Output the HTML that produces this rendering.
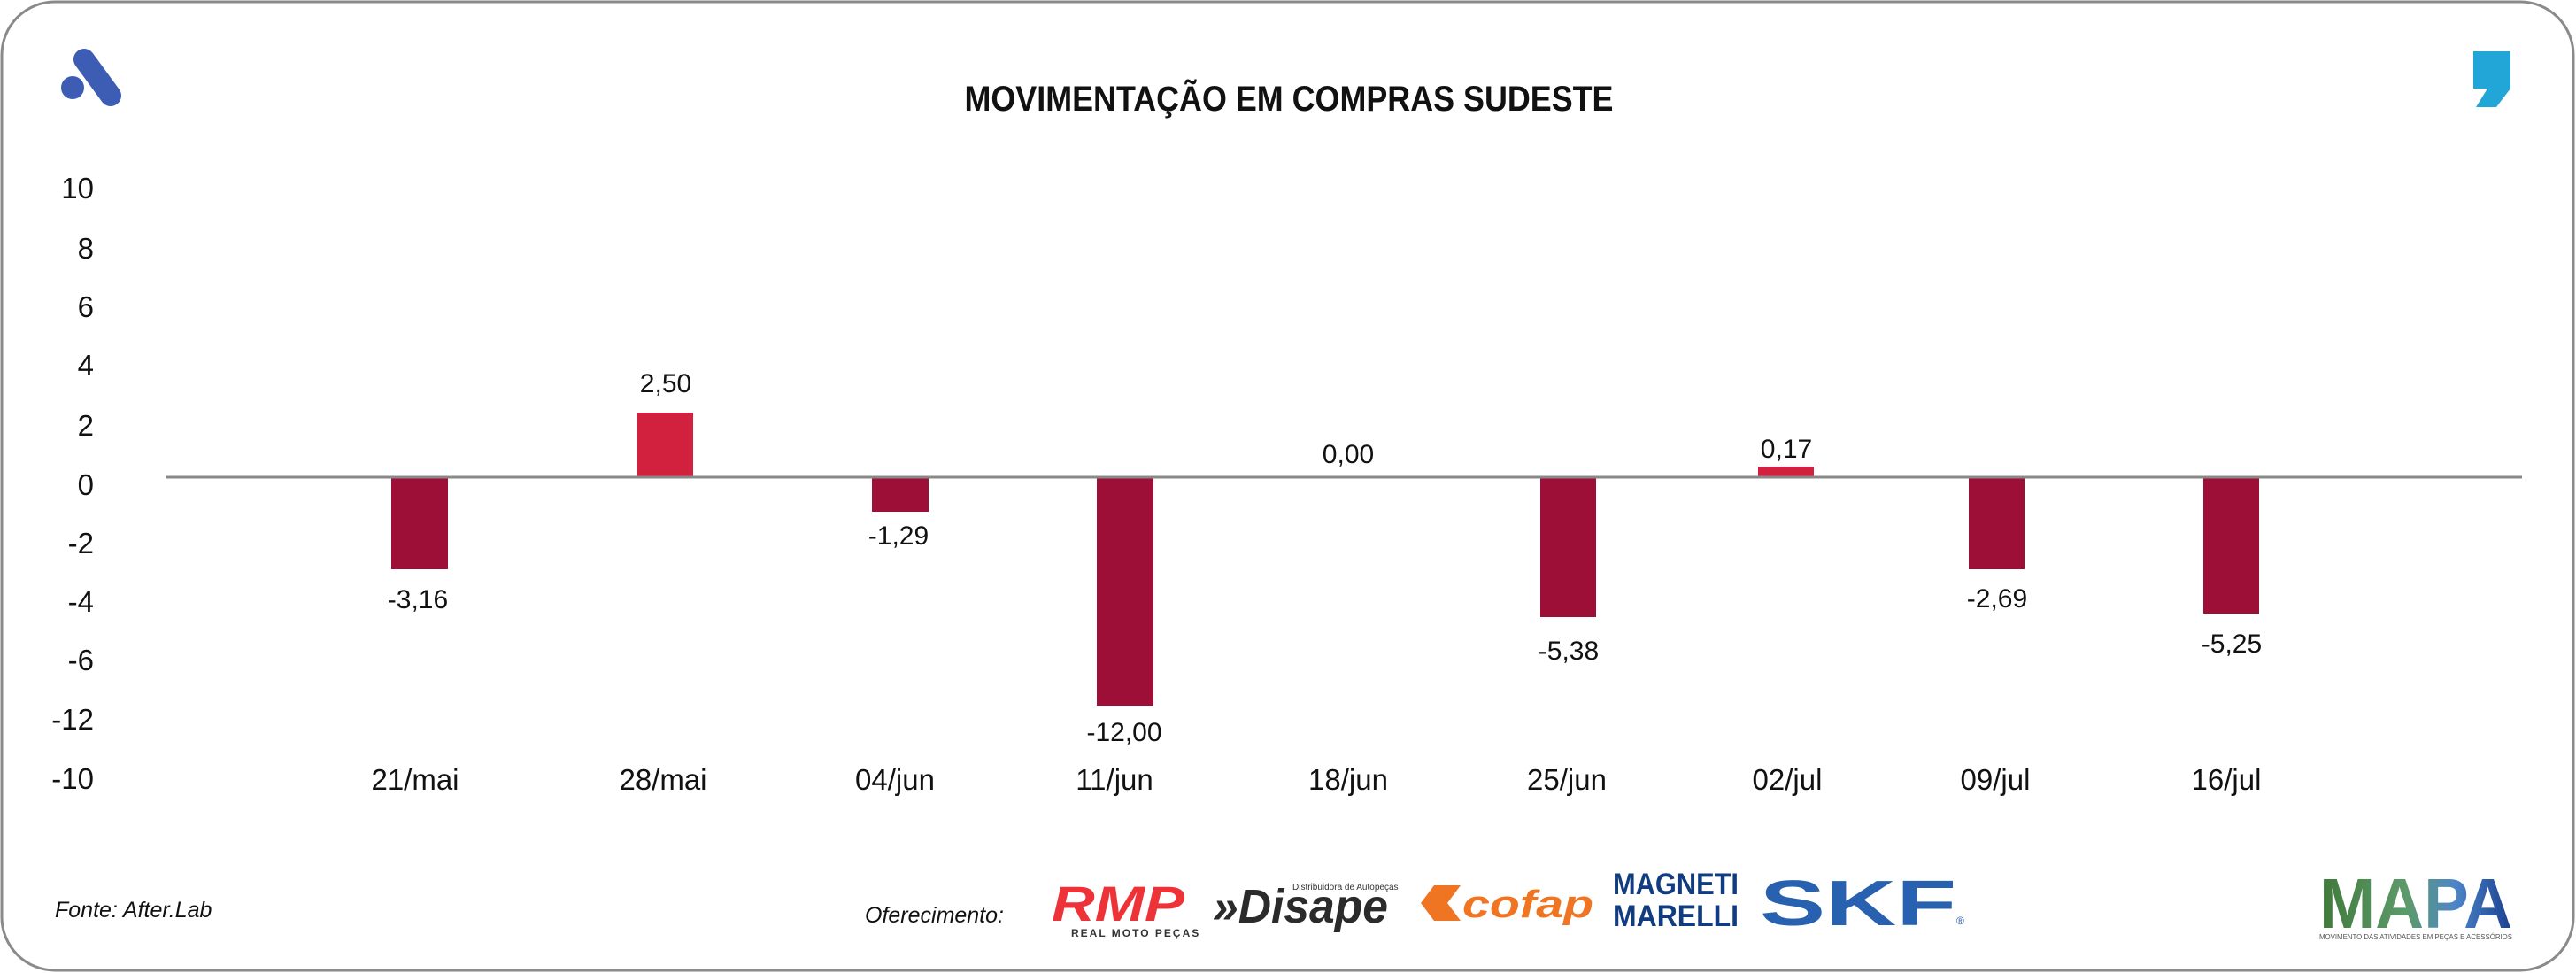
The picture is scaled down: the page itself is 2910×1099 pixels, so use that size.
<!DOCTYPE html>
<html><head><meta charset="utf-8">
<style>
html,body{margin:0;padding:0;background:#fff;}
svg{display:block;}
text{font-family:"Liberation Sans",sans-serif;}
</style></head>
<body>
<svg width="2910" height="1099" viewBox="0 0 2910 1099" xmlns="http://www.w3.org/2000/svg">
<defs>
<linearGradient id="mg" x1="0" y1="0" x2="1" y2="0">
<stop offset="0" stop-color="#3f7a3a"/><stop offset="0.45" stop-color="#5d9a6a"/><stop offset="0.7" stop-color="#4d86c8"/><stop offset="1" stop-color="#1a3f8f"/>
</linearGradient>
</defs>
<rect x="2" y="2" width="2905" height="1094" rx="60" ry="60" fill="#fff" stroke="#8a8a8a" stroke-width="3"/>
<!-- A logo -->
<line x1="95" y1="67" x2="125" y2="108" stroke="#3d5db5" stroke-width="24" stroke-linecap="round"/>
<circle cx="82" cy="99" r="13" fill="#3d5db5"/>
<!-- comma logo -->
<path d="M2794 58 H2836 V100 L2820 121 H2797 L2810 100 H2794 Z" fill="#22a6d8"/>
<!-- title -->
<text x="1456" y="125" font-size="40" font-weight="bold" text-anchor="middle" fill="#111" textLength="733" lengthAdjust="spacingAndGlyphs">MOVIMENTAÇÃO EM COMPRAS SUDESTE</text>
<!-- y labels -->
<g font-size="33" fill="#111" text-anchor="end">
<text x="106" y="224">10</text>
<text x="106" y="292">8</text>
<text x="106" y="358">6</text>
<text x="106" y="424">4</text>
<text x="106" y="492">2</text>
<text x="106" y="559">0</text>
<text x="106" y="625">-2</text>
<text x="106" y="691">-4</text>
<text x="106" y="757">-6</text>
<text x="106" y="824">-12</text>
<text x="106" y="891">-10</text>
</g>
<!-- bars -->
<rect x="442" y="538" width="64" height="105" fill="#9e0f38"/>
<rect x="720" y="466" width="63" height="72" fill="#d2213f"/>
<rect x="985" y="538" width="64" height="40" fill="#9e0f38"/>
<rect x="1239" y="538" width="64" height="259" fill="#9e0f38"/>
<rect x="1740" y="538" width="63" height="159" fill="#9e0f38"/>
<rect x="1986" y="527" width="63" height="11" fill="#d2213f"/>
<rect x="2224" y="538" width="63" height="105" fill="#9e0f38"/>
<rect x="2489" y="538" width="63" height="155" fill="#9e0f38"/>
<line x1="188" y1="539" x2="2849" y2="539" stroke="#888" stroke-width="3"/>
<!-- value labels -->
<g font-size="30" fill="#111" text-anchor="middle">
<text x="472" y="687">-3,16</text>
<text x="752" y="443">2,50</text>
<text x="1015" y="615">-1,29</text>
<text x="1270" y="837">-12,00</text>
<text x="1523" y="523">0,00</text>
<text x="1772" y="745">-5,38</text>
<text x="2018" y="517">0,17</text>
<text x="2256" y="686">-2,69</text>
<text x="2521" y="737">-5,25</text>
</g>
<!-- x labels -->
<g font-size="33" fill="#111" text-anchor="middle">
<text x="469" y="892">21/mai</text>
<text x="749" y="892">28/mai</text>
<text x="1011" y="892">04/jun</text>
<text x="1259" y="892">11/jun</text>
<text x="1523" y="892">18/jun</text>
<text x="1770" y="892">25/jun</text>
<text x="2019" y="892">02/jul</text>
<text x="2254" y="892">09/jul</text>
<text x="2515" y="892">16/jul</text>
</g>
<!-- footer -->
<text x="62" y="1036" font-size="25" font-style="italic" fill="#111">Fonte: After.Lab</text>
<text x="977" y="1042" font-size="25" font-style="italic" fill="#111">Oferecimento:</text>
<!-- RMP -->
<text x="1188" y="1040" font-size="56" font-weight="bold" font-style="italic" fill="#ee3338" textLength="150" lengthAdjust="spacingAndGlyphs">RMP</text>
<text x="1210" y="1058" font-size="12" font-weight="bold" fill="#333" letter-spacing="2">REAL MOTO PEÇAS</text>
<!-- Disape -->
<text x="1370" y="1042" font-size="54" font-weight="bold" font-style="italic" fill="#2b2b2b" textLength="198" lengthAdjust="spacingAndGlyphs">»Disape</text>
<text x="1460" y="1005" font-size="10" fill="#333">Distribuidora de Autopeças</text>
<!-- cofap -->
<path d="M1605 1020 L1620 1000 H1650 L1635 1020 L1650 1040 H1620 Z" fill="#f07522"/>
<text x="1652" y="1036" font-size="44" font-weight="bold" font-style="italic" fill="#f07522" textLength="148" lengthAdjust="spacingAndGlyphs">cofap</text>
<!-- Magneti Marelli -->
<text x="1822" y="1010" font-size="34" font-weight="bold" fill="#123c80" textLength="142" lengthAdjust="spacingAndGlyphs">MAGNETI</text>
<text x="1822" y="1046" font-size="34" font-weight="bold" fill="#123c80" textLength="142" lengthAdjust="spacingAndGlyphs">MARELLI</text>
<!-- SKF -->
<text x="1988" y="1045" font-size="72" font-weight="bold" fill="#2861b0" textLength="222" lengthAdjust="spacingAndGlyphs">SKF</text>
<text x="2210" y="1044" font-size="12" fill="#2861b0">®</text>
<!-- MAPA -->
<text x="2620" y="1048" font-size="80" font-weight="bold" fill="url(#mg)" textLength="218" lengthAdjust="spacingAndGlyphs">MAPA</text>
<text x="2620" y="1061" font-size="8" fill="#555" textLength="218" lengthAdjust="spacingAndGlyphs">MOVIMENTO DAS ATIVIDADES EM PEÇAS E ACESSÓRIOS</text>
</svg>
</body></html>
